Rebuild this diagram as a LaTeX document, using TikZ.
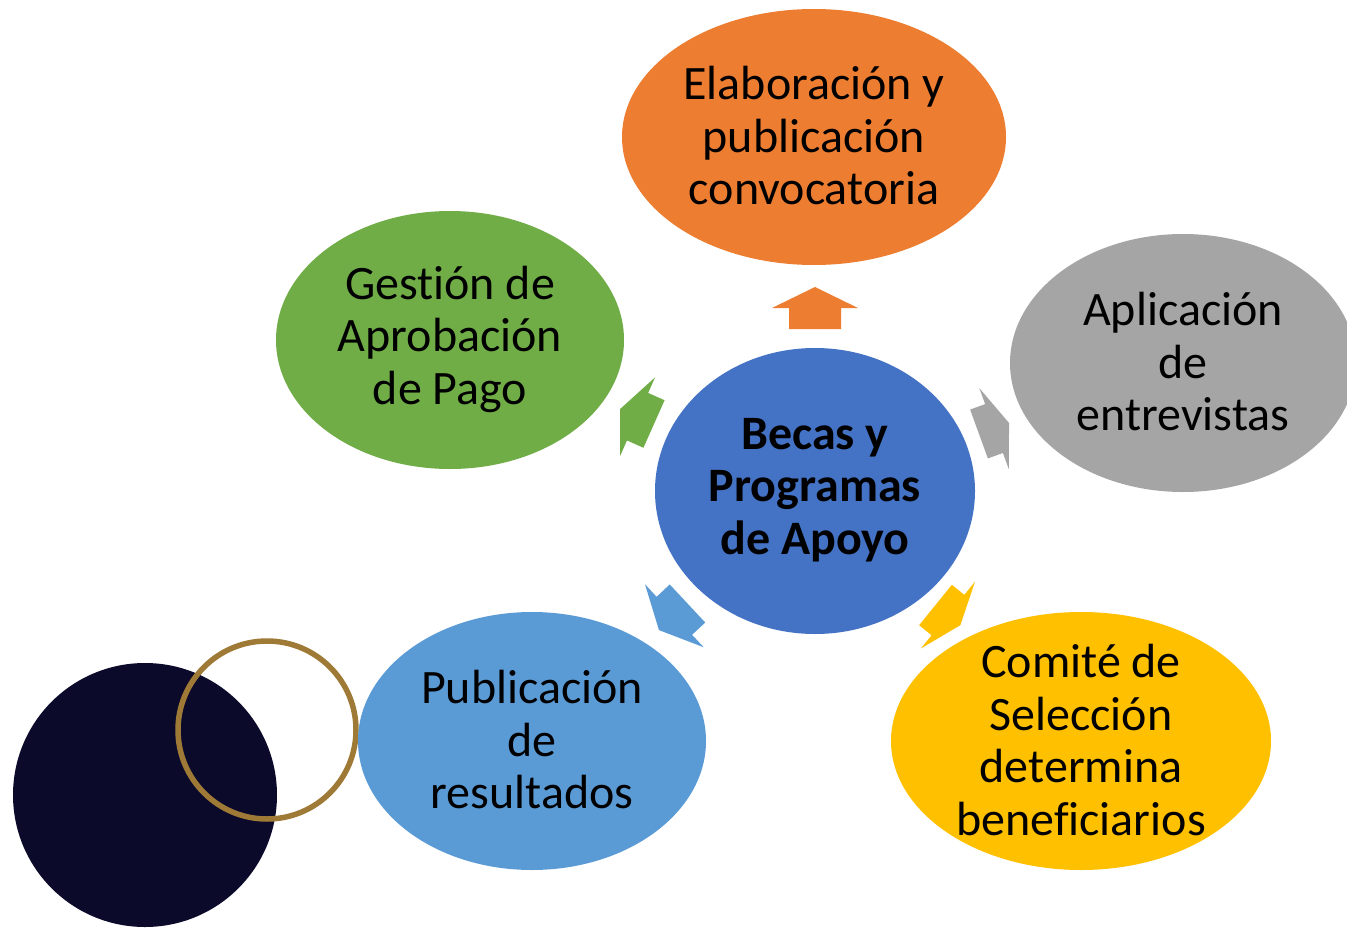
\documentclass[tikz,border=0pt]{standalone}
\usepackage{fontspec}
\setmainfont{Carlito}[Ligatures=NoCommon]
\usetikzlibrary{shapes.geometric}
\definecolor{corange}{HTML}{ED7D31}
\definecolor{cgreen}{HTML}{70AD47}
\definecolor{cgray}{HTML}{A5A5A5}
\definecolor{cyellow}{HTML}{FFC000}
\definecolor{clblue}{HTML}{5B9BD5}
\definecolor{cblue}{HTML}{4472C4}
\definecolor{cdark}{HTML}{0C0A2A}
\definecolor{cgold}{HTML}{9E7A36}
\newcommand\blkarrow[6]{%
  \fill[#6, shift={(#1,#2)}, rotate=#3] (0,26) -- (#4,26) -- (#4,43) -- (#5,0) -- (#4,-43) -- (#4,-26) -- (0,-26) -- cycle;}
\begin{document}
\begin{tikzpicture}[x=1pt,y=-1pt,
  blob/.style={ellipse, inner sep=0pt, draw=none},
  txt/.style={align=center, inner sep=0pt, text=black, font=\fontsize{48}{52.5}\selectfont}]
\useasboundingbox[fill=white] (0,0) rectangle (1347,929);
% decorative circles
\fill[cdark] (145,795) circle[radius=132];
\draw[cgold, line width=5.5pt] (267,730) circle[radius=89];
% ellipses
\node[blob, fill=corange, minimum width=384, minimum height=256] (e1) at (814,137) {};
\node[blob, fill=cgreen, minimum width=348, minimum height=258] (e2) at (450,340) {};
\node[blob, fill=cgray, minimum width=346, minimum height=258] (e3) at (1183,363) {};
\node[blob, fill=cyellow, minimum width=380, minimum height=258] (e4) at (1081,741) {};
\node[blob, fill=clblue, minimum width=348, minimum height=258] (e5) at (532,741) {};
\node[blob, fill=cblue, minimum width=320, minimum height=286] (c) at (815,491) {};
% texts
\node[txt] (t1) at ([yshift=1]e1.center) {Elaboración y\\publicación\\convocatoria};
\node[txt] (t2) at ([yshift=1]e2.center) {Gest\kern0ptión de\\Aprobación\\de Pago};
\node[txt] (t3) at ([yshift=1]e3.center) {Aplicación\\de\\entrevistas};
\node[txt] (t4) at ([yshift=1]e4.center) {Comité de\\Selección\\determina\\benef\kern0pticiarios};
\node[txt] (t5) at ([yshift=1]e5.center) {Publicación\\de\\resultados};
\node[txt, font=\fontsize{48}{52.5}\selectfont\bfseries] (tc) at ([yshift=1]c.center) {Becas y\\Programas\\de Apoyo};
% block arrows
\blkarrow{815}{329}{90}{21}{42}{corange}
\blkarrow{654}{424}{156}{18}{37}{cgreen}
\blkarrow{979}{434}{20}{16}{32}{cgray}
\blkarrow{687.5}{603.5}{223}{18}{39}{clblue}
\blkarrow{935.5}{605}{-39}{16}{32}{cyellow}
\end{tikzpicture}
\end{document}
